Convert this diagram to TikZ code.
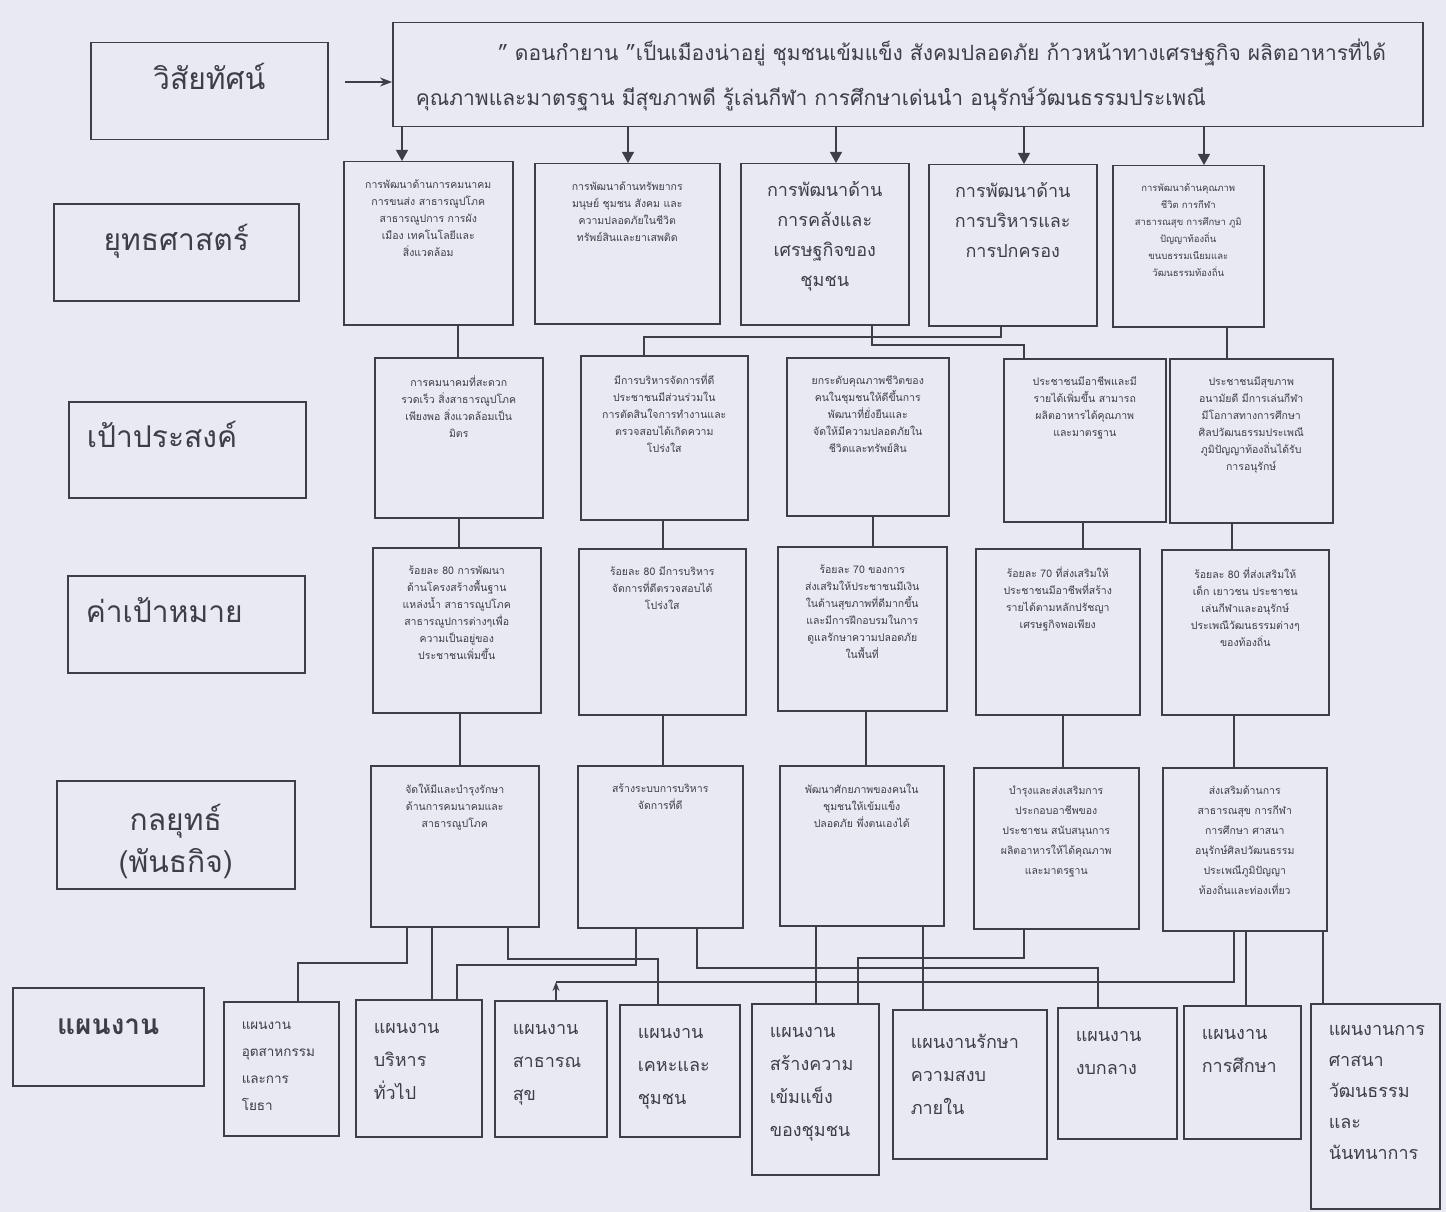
\documentclass[tikz,border=0pt]{standalone}
\usepackage{fontspec}
\setmainfont[Script=Thai]{Loma}
\usepackage{tikz}
\usetikzlibrary{arrows.meta}
\definecolor{paper}{RGB}{233,233,241}
\definecolor{ink}{RGB}{62,62,72}
\newcommand{\cellbox}[3]{\parbox[c][\dimexpr#2pt-36pt\relax][t]{\dimexpr#1pt-10pt\relax}{\centering#3}}
\newcommand{\planbox}[4]{\parbox[c][#2pt][t]{\dimexpr#1pt-36pt\relax}{\vspace*{#3pt}\raggedright#4}}
\newcommand{\smallt}{\fontsize{10.5}{17}\selectfont}
\newcommand{\looset}{\fontsize{10.5}{20}\selectfont}
\newcommand{\tinyt}{\fontsize{9.5}{17}\selectfont}
\newcommand{\bigt}{\fontsize{18}{30}\selectfont}
\newcommand{\plant}{\fontsize{18}{33}\selectfont}
\tikzset{
  head/.style = {draw=ink, line width=1.5pt, anchor=north west, align=center,
    inner sep=0pt, fill=paper, font=\fontsize{30}{42}\selectfont},
  lift/.style = {text height=20pt, text depth=24pt},
  cell/.style = {draw=ink, line width=1.5pt, anchor=north west, inner xsep=5pt,
    inner ysep=18pt, fill=paper},
  plan/.style = {cell, inner xsep=18pt, inner ysep=0pt},
  link/.style = {draw=ink, line width=1.2pt},
  tip/.style = {link, -{Triangle[length=11pt,width=12pt]}}
}

\begin{document}
\begin{tikzpicture}[x=1pt, y=-1pt, text=ink]
\fill[paper] (0,0) rectangle (1446,1212);

% row titles
\node[head, lift, minimum width=237, minimum height=97] (lv) at (90,42) {วิสัยทัศน์};
\node[head, lift, minimum width=245, minimum height=97] (ls) at (53,203) {ยุทธศาสตร์};
\node[head, lift, align=left, inner xsep=18pt, text width=201pt, minimum height=96] (lo) at (68,401) {เป้าประสงค์};
\node[head, lift, align=left, inner xsep=18pt, text width=201pt, minimum height=97] (lt) at (67,575) {ค่าเป้าหมาย};
\node[head, text height=77pt, text depth=2pt, minimum width=238, minimum height=108] (lk) at (56,780) {กลยุทธ์\\(พันธกิจ)};
\node[head, lift, minimum width=191, minimum height=98, font=\bfseries\fontsize{28}{40}\selectfont] (lp) at (12,987) {แผนงาน};

% vision
\node[cell, inner xsep=23pt, inner ysep=0pt, minimum height=104, text width=984, align=left,
  font=\fontsize{21}{45}\selectfont] (vis) at (392,22)
  {\hspace*{82pt}" ดอนกำยาน "เป็นเมืองน่าอยู่ ชุมชนเข้มแข็ง สังคมปลอดภัย ก้าวหน้าทางเศรษฐกิจ ผลิตอาหารที่ได้\\
   คุณภาพและมาตรฐาน มีสุขภาพดี รู้เล่นกีฬา การศึกษาเด่นนำ อนุรักษ์วัฒนธรรมประเพณี};
\coordinate (va) at (345,82);
\draw[link, -{Stealth[length=12pt,width=9pt]}] (va) -- (va -| vis.west);

% strategies
\node[cell] (s1) at (343,161) {\cellbox{169}{163}{\smallt การพัฒนาด้านการคมนาคม\\การขนส่ง สาธารณูปโภค\\สาธารณูปการ การผัง\\เมือง เทคโนโลยีและ\\สิ่งแวดล้อม}};
\node[cell] (s2) at (534,163) {\cellbox{185}{160}{\smallt การพัฒนาด้านทรัพยากร\\มนุษย์ ชุมชน สังคม และ\\ความปลอดภัยในชีวิต\\ทรัพย์สินและยาเสพติด}};
\node[cell] (s3) at (740,163) {\cellbox{168}{161}{\bigt การพัฒนาด้าน\\การคลังและ\\เศรษฐกิจของ\\ชุมชน}};
\node[cell] (s4) at (928,164) {\cellbox{168}{161}{\bigt การพัฒนาด้าน\\การบริหารและ\\การปกครอง}};
\node[cell] (s5) at (1112,165) {\cellbox{151}{161}{\tinyt การพัฒนาด้านคุณภาพ\\ชีวิต การกีฬา\\สาธารณสุข การศึกษา ภูมิ\\ปัญญาท้องถิ่น\\ขนบธรรมเนียมและ\\วัฒนธรรมท้องถิ่น}};

% objectives
\node[cell] (o1) at (374,357) {\cellbox{168}{160}{\smallt การคมนาคมที่สะดวก\\รวดเร็ว สิ่งสาธารณูปโภค\\เพียงพอ สิ่งแวดล้อมเป็น\\มิตร}};
\node[cell] (o2) at (580,355) {\cellbox{167}{164}{\smallt มีการบริหารจัดการที่ดี\\ประชาชนมีส่วนร่วมใน\\การตัดสินใจการทำงานและ\\ตรวจสอบได้เกิดความ\\โปร่งใส}};
\node[cell] (o3) at (786,357) {\cellbox{162}{158}{\smallt ยกระดับคุณภาพชีวิตของ\\คนในชุมชนให้ดีขึ้นการ\\พัฒนาที่ยั่งยืนและ\\จัดให้มีความปลอดภัยใน\\ชีวิตและทรัพย์สิน}};
\node[cell] (o4) at (1003,358) {\cellbox{162}{163}{\smallt ประชาชนมีอาชีพและมี\\รายได้เพิ่มขึ้น สามารถ\\ผลิตอาหารได้คุณภาพ\\และมาตรฐาน}};
\node[cell] (o5) at (1169,358) {\cellbox{163}{164}{\smallt ประชาชนมีสุขภาพ\\อนามัยดี มีการเล่นกีฬา\\มีโอกาสทางการศึกษา\\ศิลปวัฒนธรรมประเพณี\\ภูมิปัญญาท้องถิ่นได้รับ\\การอนุรักษ์}};

% targets
\node[cell] (t1) at (372,547) {\cellbox{168}{165}{\smallt ร้อยละ 80 การพัฒนา\\ด้านโครงสร้างพื้นฐาน\\แหล่งน้ำ สาธารณูปโภค\\สาธารณูปการต่างๆเพื่อ\\ความเป็นอยู่ของ\\ประชาชนเพิ่มขึ้น}};
\node[cell] (t2) at (578,548) {\cellbox{167}{166}{\smallt ร้อยละ 80 มีการบริหาร\\จัดการที่ดีตรวจสอบได้\\โปร่งใส}};
\node[cell] (t3) at (777,546) {\cellbox{169}{164}{\smallt ร้อยละ 70 ของการ\\ส่งเสริมให้ประชาชนมีเงิน\\ในด้านสุขภาพที่ดีมากขึ้น\\และมีการฝึกอบรมในการ\\ดูแลรักษาความปลอดภัย\\ในพื้นที่}};
\node[cell] (t4) at (975,548) {\cellbox{164}{166}{\smallt ร้อยละ 70 ที่ส่งเสริมให้\\ประชาชนมีอาชีพที่สร้าง\\รายได้ตามหลักปรัชญา\\เศรษฐกิจพอเพียง}};
\node[cell] (t5) at (1161,549) {\cellbox{167}{165}{\smallt ร้อยละ 80 ที่ส่งเสริมให้\\เด็ก เยาวชน ประชาชน\\เล่นกีฬาและอนุรักษ์\\ประเพณีวัฒนธรรมต่างๆ\\ของท้องถิ่น}};

% tactics
\node[cell] (k1) at (370,765) {\cellbox{168}{161}{\smallt จัดให้มีและบำรุงรักษา\\ด้านการคมนาคมและ\\สาธารณูปโภค}};
\node[cell] (k2) at (577,765) {\cellbox{165}{162}{\smallt สร้างระบบการบริหาร\\จัดการที่ดี}};
\node[cell] (k3) at (779,765) {\cellbox{164}{160}{\smallt พัฒนาศักยภาพของคนใน\\ชุมชนให้เข้มแข็ง\\ปลอดภัย พึ่งตนเองได้}};
\node[cell] (k4) at (973,767) {\cellbox{165}{161}{\looset บำรุงและส่งเสริมการ\\ประกอบอาชีพของ\\ประชาชน สนับสนุนการ\\ผลิตอาหารให้ได้คุณภาพ\\และมาตรฐาน}};
\node[cell] (k5) at (1162,767) {\cellbox{164}{163}{\looset ส่งเสริมด้านการ\\สาธารณสุข การกีฬา\\การศึกษา ศาสนา\\อนุรักษ์ศิลปวัฒนธรรม\\ประเพณีภูมิปัญญา\\ท้องถิ่นและท่องเที่ยว}};

% plans
\node[plan] (p1) at (223,1001) {\planbox{115}{134}{20}{\fontsize{13.5}{27}\selectfont แผนงาน\\อุตสาหกรรม\\และการ\\โยธา}};
\node[plan] (p2) at (355,999) {\planbox{126}{137}{24}{\plant แผนงาน\\บริหาร\\ทั่วไป}};
\node[plan] (p3) at (494,1000) {\planbox{112}{136}{24}{\plant แผนงาน\\สาธารณ\\สุข}};
\node[plan] (p4) at (619,1004) {\planbox{120}{132}{24}{\plant แผนงาน\\เคหะและ\\ชุมชน}};
\node[plan] (p5) at (751,1003) {\planbox{127}{171}{24}{\plant แผนงาน\\สร้างความ\\เข้มแข็ง\\ของชุมชน}};
\node[plan] (p6) at (892,1009) {\planbox{154}{149}{24}{\plant แผนงานรักษา\\ความสงบ\\ภายใน}};
\node[plan] (p7) at (1057,1007) {\planbox{119}{131}{24}{\plant แผนงาน\\งบกลาง}};
\node[plan] (p8) at (1183,1005) {\planbox{117}{133}{24}{\plant แผนงาน\\การศึกษา}};
\node[plan] (p9) at (1310,1003) {\planbox{129}{205}{22}{\fontsize{18}{31}\selectfont แผนงานการ\\ศาสนา\\วัฒนธรรม\\และ\\นันทนาการ}};

% vision to strategies
\foreach \b/\x in {s1/402, s2/628, s3/836, s4/1024, s5/1204}
  \draw[tip] (vis.south -| \x,0) -- (\b.north -| \x,0);

% strategies to objectives
\draw[link] (s1.south -| 458,0) -- (o1.north -| 458,0);
\draw[link] (s3.south -| 872,0) |- (1024,345) -- (o4.north -| 1024,0);
\draw[link] (s4.south -| 1001,0) |- (644,337) -- (o2.north -| 644,0);
\draw[link] (s5.south -| 1227,0) -- (o5.north -| 1227,0);

% objectives to targets, targets to tactics
\foreach \a/\b/\x in {o1/t1/459, o2/t2/663, o3/t3/873, o4/t4/1083, o5/t5/1232}
  \draw[link] (\a.south -| \x,0) -- (\b.north -| \x,0);
\foreach \a/\b/\x in {t1/k1/460, t2/k2/663, t3/k3/866, t4/k4/1063, t5/k5/1234}
  \draw[link] (\a.south -| \x,0) -- (\b.north -| \x,0);

% tactics to plans
\draw[link] (k1.south -| 407,0) |- (298,963) -- (p1.north -| 298,0);
\draw[link] (k1.south -| 432,0) -- (p2.north -| 432,0);
\draw[link] (k1.south -| 508,0) |- (658,959) -- (p4.north -| 658,0);
\draw[link] (k2.south -| 636,0) |- (457,965) -- (p2.north -| 457,0);
\draw[link] (k2.south -| 697,0) |- (1098,968) -- (p7.north -| 1098,0);
\draw[link] (k3.south -| 816,0) -- (p5.north -| 816,0);
\draw[link] (k3.south -| 923,0) -- (p6.north -| 923,0);
\draw[link] (k4.south -| 1024,0) |- (858,958) -- (p5.north -| 858,0);
\draw[link] (k5.south -| 1234,0) |- (556,982);
\draw[link, -{Stealth[length=9pt,width=7pt]}] (p3.north -| 556,0) -- (556,982);
\draw[link] (k5.south -| 1246,0) -- (p8.north -| 1246,0);
\draw[link] (k5.south -| 1323,0) -- (p9.north -| 1323,0);
\end{tikzpicture}
\end{document}
